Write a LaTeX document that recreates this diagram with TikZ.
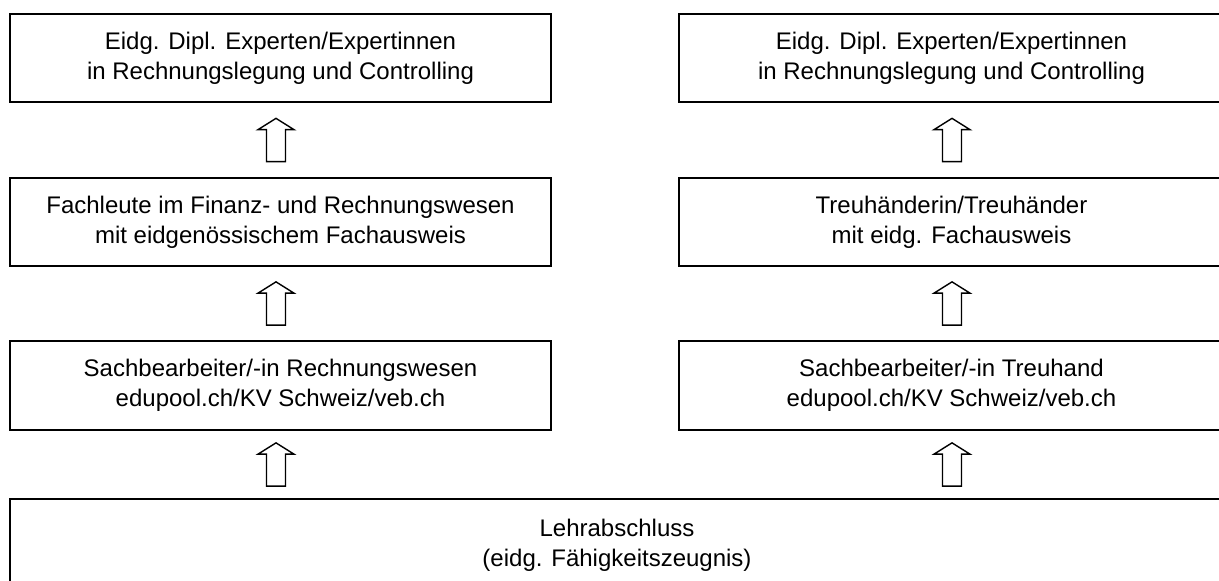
\documentclass[tikz,border=0pt]{standalone}
\usepackage{fontspec}
\setmainfont{Liberation Sans}
\usetikzlibrary{calc}
\newcommand\blockup[3]{% #1 lower node, #2 upper node, #3 x offset
  \coordinate (m) at ($(#2.south)!0.5!(#2.south |- #1.north)+(#3,0)$);
  \draw[blockarrow] ($(m)+(0,-21.65)$) -- ($(m)+(18,-10.35)$) -- ($(m)+(9.5,-10.35)$)
    -- ($(m)+(9.5,21.65)$) -- ($(m)+(-9.5,21.65)$) -- ($(m)+(-9.5,-10.35)$)
    -- ($(m)+(-18,-10.35)$) -- cycle;
}
\begin{document}
\begin{tikzpicture}[x=1pt,y=-1pt,
  box/.style={draw=black, line width=1.6pt, minimum width=541pt, minimum height=88pt,
    inner sep=0pt, align=center, font=\fontsize{24}{30}\selectfont, text=black},
  rbox/.style={box, minimum width=545pt},
  blockarrow/.style={draw=black, line width=1.4pt, fill=white, line join=miter}]
\useasboundingbox (0,0) rectangle (1219,581);
\fill[white] (0,0) rectangle (1219,581);
\clip (0,0) rectangle (1219,581);
% left column
\node[box] (l1) at (280.5,58) {Eidg. Dipl. Experten/Expertinnen\\in Rechnungslegung und Controlling};
\node[box] (l2) at (280.5,222) {Fachleute im Finanz- und Rechnungswesen\\mit eidgenössischem Fachausweis};
\node[box, minimum height=89pt] (l3) at (280.5,385.5) {Sachbearbeiter/-in Rechnungswesen\\edupool.ch/KV Schweiz/veb.ch};
% right column
\node[rbox] (r1) at (951.5,58) {Eidg. Dipl. Experten/Expertinnen\\in Rechnungslegung und Controlling};
\node[rbox] (r2) at (951.5,222) {Treuhänderin/Treuhänder\\mit eidg. Fachausweis};
\node[rbox, minimum height=89pt] (r3) at (951.5,385.5) {Sachbearbeiter/-in Treuhand\\edupool.ch/KV Schweiz/veb.ch};
% base
\node[box, minimum width=1214pt, minimum height=92pt] (base) at (617,545) {Lehrabschluss\\(eidg. Fähigkeitszeugnis)};
% arrows
\blockup{l2}{l1}{-4.5}
\blockup{l3}{l2}{-4.5}
\blockup{base}{l3}{-4.5}
\blockup{r2}{r1}{0.5}
\blockup{r3}{r2}{0.5}
\blockup{base}{r3}{0.5}
\end{tikzpicture}
\end{document}
